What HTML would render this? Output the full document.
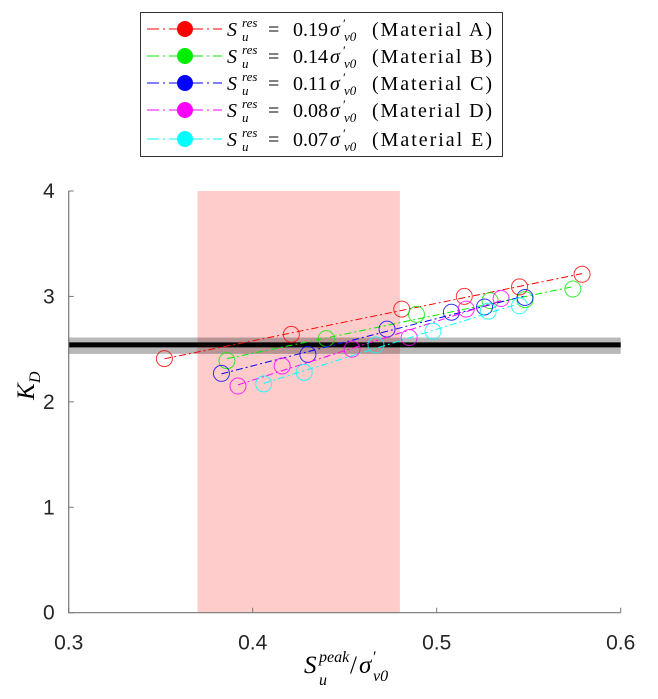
<!DOCTYPE html>
<html><head><meta charset="utf-8"><style>
html,body{margin:0;padding:0;background:#fff;}
svg{display:block;}
</style></head><body>
<svg id="chart" width="658" height="699" viewBox="0 0 658 699" xmlns="http://www.w3.org/2000/svg">
<g id="plot"></g>
<g id="axes"></g>
<g id="legend"></g>
</svg>
<script>
const xTicks = [0.3, 0.4, 0.5, 0.6];
const yTicks = [0, 1, 2, 3, 4];
const bandRange = [0.37, 0.48];
const refKD = 2.54;
const refKDBand = [2.455, 2.61];
const seriesNames = ["Material A", "Material B", "Material C", "Material D", "Material E"];
const seriesRes = ["0.19", "0.14", "0.11", "0.08", "0.07"];
const seriesColors = ["#ff0000", "#00ee00", "#0000ff", "#ff00ff", "#00ffff"];
const xA = [0.352, 0.421, 0.481, 0.515, 0.545, 0.579];
const yA = [2.41, 2.64, 2.88, 3.00, 3.09, 3.21];
const xB = [0.386, 0.440, 0.489, 0.529, 0.548, 0.574];
const yB = [2.39, 2.60, 2.83, 2.96, 2.97, 3.07];
const xC = [0.383, 0.430, 0.473, 0.508, 0.526, 0.548];
const yC = [2.27, 2.45, 2.69, 2.85, 2.90, 2.99];
const xD = [0.392, 0.416, 0.454, 0.485, 0.516, 0.535];
const yD = [2.15, 2.34, 2.50, 2.61, 2.88, 2.98];
const xE = [0.406, 0.428, 0.467, 0.498, 0.528, 0.545];
const yE = [2.17, 2.28, 2.54, 2.67, 2.86, 2.91];
const seriesX = [xA, xB, xC, xD, xE];
const seriesY = [yA, yB, yC, yD, yE];

const NS = "http://www.w3.org/2000/svg";
const L = 68.7, R = 620.7, T = 191, B = 612.7;
const xS = v => L + (v - 0.3) / 0.3 * (R - L);
const yS = v => B - v / 4 * (B - T);
function mk(tag, attrs, parent) {
  const e = document.createElementNS(NS, tag);
  for (const k in attrs) e.setAttribute(k, attrs[k]);
  parent.appendChild(e);
  return e;
}
function txt(parent, x, y, s, size, italic, anchor) {
  const t = mk('text', {x: x, y: y, 'font-family': 'Liberation Serif, serif', 'font-size': size, fill: '#000'}, parent);
  if (italic) t.setAttribute('font-style', 'italic');
  if (anchor) t.setAttribute('text-anchor', anchor);
  t.textContent = s;
  return t;
}
const plot = document.getElementById('plot');
const axes = document.getElementById('axes');
const legend = document.getElementById('legend');

const band = mk('rect', {x: xS(bandRange[0]), y: T, width: xS(bandRange[1]) - xS(bandRange[0]), height: B - T, fill: '#ffcccc'}, plot);



const gb = mk('rect', {x: L, y: yS(refKDBand[1]), width: R - L, height: yS(refKDBand[0]) - yS(refKDBand[1]), fill: '#000', 'fill-opacity': 0.28}, plot);


const bl = mk('line', {x1: L, x2: R, y1: yS(refKD), y2: yS(refKD), stroke: '#000', 'stroke-width': 5}, plot);



seriesX.forEach((xs, i) => {
  const ys = seriesY[i];
  const g = mk('g', {}, plot);
  
  
  const n = xs.length;
  const mx = xs.reduce((a, b) => a + b) / n, my = ys.reduce((a, b) => a + b) / n;
  let sxy = 0, sxx = 0;
  xs.forEach((x, j) => { sxy += (x - mx) * (ys[j] - my); sxx += (x - mx) * (x - mx); });
  const k = sxy / sxx, b0 = my - k * mx;
  const x0 = Math.min(...xs), x1 = Math.max(...xs);
  const fl = mk('line', {x1: xS(x0), y1: yS(b0 + k * x0), x2: xS(x1), y2: yS(b0 + k * x1), stroke: seriesColors[i], 'stroke-width': 1, 'stroke-dasharray': '7 3 2 3'}, g);
  
  
  xs.forEach((x, j) => {
    const c = mk('circle', {cx: xS(x), cy: yS(ys[j]), r: 8, fill: 'none', stroke: seriesColors[i], 'stroke-width': 1, 'stroke-opacity': 0.8}, g);
    
    
  });
});

const ax = mk('path', {d: `M${L},${T}V${B}H${R}`, stroke: '#777', fill: 'none', 'stroke-width': 1.2}, axes);


xTicks.forEach(v => {
  mk('line', {x1: xS(v), x2: xS(v), y1: B, y2: B - 5, stroke: '#777'}, axes);
  const t = mk('text', {x: xS(v), y: B + 37, 'text-anchor': 'middle', 'font-family': 'Liberation Sans, sans-serif', 'font-size': 21, fill: '#262626'}, axes);
  t.textContent = v.toFixed(1);
  
  
});
yTicks.forEach(v => {
  mk('line', {x1: L, x2: L + 5, y1: yS(v), y2: yS(v), stroke: '#777'}, axes);
  const t = mk('text', {x: L - 14, y: yS(v) + 7, 'text-anchor': 'end', 'font-family': 'Liberation Sans, sans-serif', 'font-size': 21, fill: '#262626'}, axes);
  t.textContent = v;
  
  
});

// y title
const yt = mk('g', {transform: 'translate(34,388) rotate(-90)'}, axes);


txt(yt, -12, 0, 'K', 25, true);
txt(yt, 5, 6, 'D', 16, true);

// x title
const xt = mk('g', {}, axes);


txt(xt, 304, 673, 'S', 25, true);
txt(xt, 319, 662, 'peak', 16, true);
txt(xt, 319, 685, 'u', 16, true);
txt(xt, 350, 673, '/', 25, false);
txt(xt, 359, 673, 'σ', 25, true);
txt(xt, 373, 662, '′', 16, false);
txt(xt, 373, 681, 'v0', 16, true);

// legend
const box = mk('rect', {x: 140.5, y: 12.5, width: 362, height: 144, fill: '#fff', stroke: '#333', 'stroke-width': 1}, legend);


const rows = [29, 56, 83, 110, 139];
seriesNames.forEach((nm, i) => {
  const g = mk('g', {}, legend);
  
  
  const y = rows[i];
  mk('line', {x1: 147, x2: 222, y1: y, y2: y, stroke: seriesColors[i], 'stroke-width': 1, 'stroke-dasharray': '12 4 2 4'}, g);
  mk('circle', {cx: 185, cy: y, r: 8, fill: seriesColors[i]}, g);
  const b = y + 7;
  txt(g, 227, b, 'S', 20, true);
  txt(g, 242, b - 9, 'res', 13, true);
  txt(g, 242, b + 5, 'u', 13, true);
  txt(g, 268, b, '=', 20, false);
  txt(g, 293, b, seriesRes[i], 20, false);
  txt(g, 330, b, 'σ', 20, true);
  txt(g, 343, b - 8, '′', 13, false);
  txt(g, 344, b + 5, 'v0', 13, true);
  const t = txt(g, 372, b, '(' + nm + ')', 20, false);
  t.setAttribute('textLength', 120);
});
</script>
</body></html>
